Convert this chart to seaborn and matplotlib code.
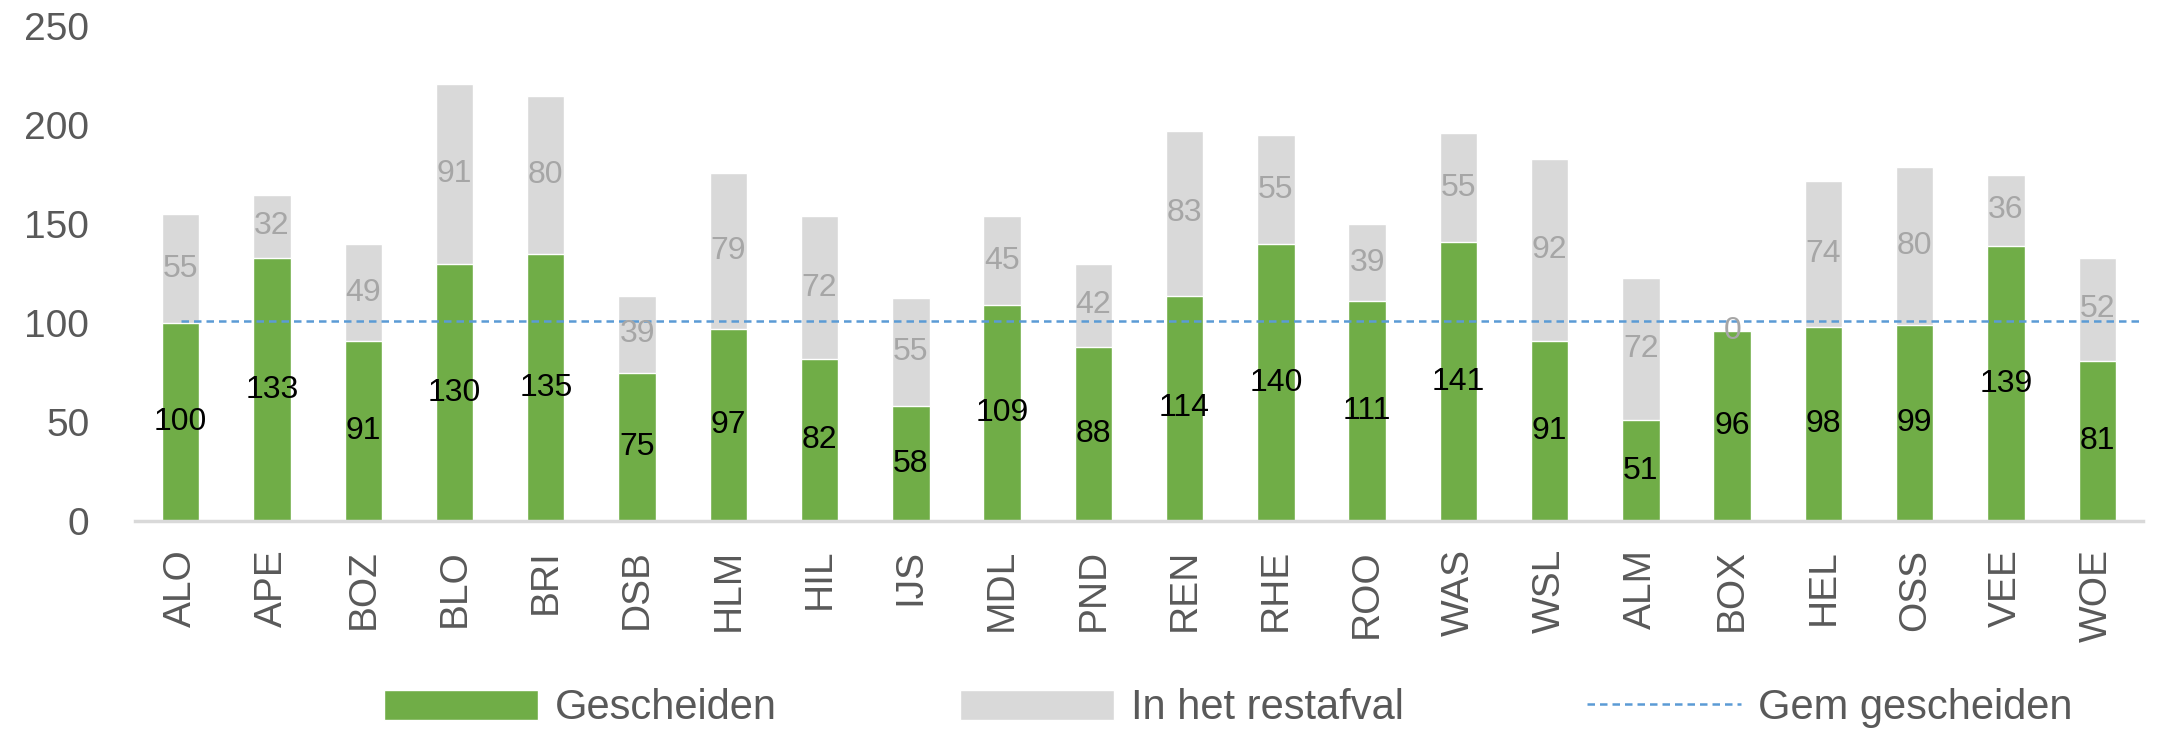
import matplotlib
matplotlib.use("Agg")
import matplotlib.pyplot as plt
import seaborn as sns
import pandas as pd

# data
gemeenten = ["ALO", "APE", "BOZ", "BLO", "BRI", "DSB", "HLM", "HIL", "IJS", "MDL", "PND",
             "REN", "RHE", "ROO", "WAS", "WSL", "ALM", "BOX", "HEL", "OSS", "VEE", "WOE"]
gescheiden = [100, 133, 91, 130, 135, 75, 97, 82, 58, 109, 88,
              114, 140, 111, 141, 91, 51, 96, 98, 99, 139, 81]
restafval = [55, 32, 49, 91, 80, 39, 79, 72, 55, 45, 42,
             83, 55, 39, 55, 92, 72, 0, 74, 80, 36, 52]
gem_gescheiden = 101

GREEN = "#70AD47"
GREY = "#D9D9D9"
BLUE = "#5B9BD5"
TEXT = "#595959"

df = pd.DataFrame({"gemeente": gemeenten, "gescheiden": gescheiden, "restafval": restafval})
df["totaal"] = df["gescheiden"] + df["restafval"]

sns.set_style("white")
plt.rcParams["font.family"] = ["Liberation Sans", "DejaVu Sans"]

fig, ax = plt.subplots(figsize=(21.58, 7.31), dpi=100)
fig.subplots_adjust(left=0.0626, right=0.993, bottom=0.287, top=0.964)

# totaal in grijs, daarover gescheiden in groen -> gestapeld
sns.barplot(data=df, x="gemeente", y="totaal", color=GREY, saturation=1, width=0.41,
            label="In het restafval", ax=ax)
sns.barplot(data=df, x="gemeente", y="gescheiden", color=GREEN, saturation=1, width=0.41,
            label="Gescheiden", ax=ax)
if ax.get_legend() is not None:
    ax.get_legend().remove()

ax.hlines(gem_gescheiden, 0, len(gemeenten) - 0.5, colors=BLUE, linestyles=(0, (3, 2)),
          linewidth=1.8, label="Gem gescheiden")

# labels
ax.bar_label(ax.containers[1], labels=[str(v) for v in gescheiden], label_type="center",
             fontsize=23, color="black")
for i, row in df.iterrows():
    ax.text(i, row["gescheiden"] + row["restafval"] / 2, str(row["restafval"]),
            ha="center", va="center", fontsize=23, color="#A6A6A6")

ax.set_xlim(-0.5, len(gemeenten) - 0.5)
ax.set_ylim(0, 250)
ax.set_yticks([0, 50, 100, 150, 200, 250])
ax.set_xlabel("")
ax.set_ylabel("")
ax.tick_params(axis="y", length=0, pad=33, labelsize=28, labelcolor=TEXT)
ax.tick_params(axis="x", length=0, pad=20, labelsize=28, labelcolor=TEXT, rotation=90)

for side in ["left", "top", "right"]:
    ax.spines[side].set_visible(False)
ax.spines["bottom"].set_color(GREY)
ax.spines["bottom"].set_linewidth(2.5)

handles, labels = ax.get_legend_handles_labels()
order = [labels.index(l) for l in ["Gescheiden", "In het restafval", "Gem gescheiden"]]
fig.legend([handles[i] for i in order], [labels[i] for i in order],
           loc="center", bbox_to_anchor=(0.569, 0.031), ncol=3, frameon=False,
           fontsize=30, labelcolor=TEXT, handlelength=3.7, handleheight=0.75,
           handletextpad=0.4, columnspacing=4.4)

plt.savefig("out.png", dpi=100)
plt.close()
